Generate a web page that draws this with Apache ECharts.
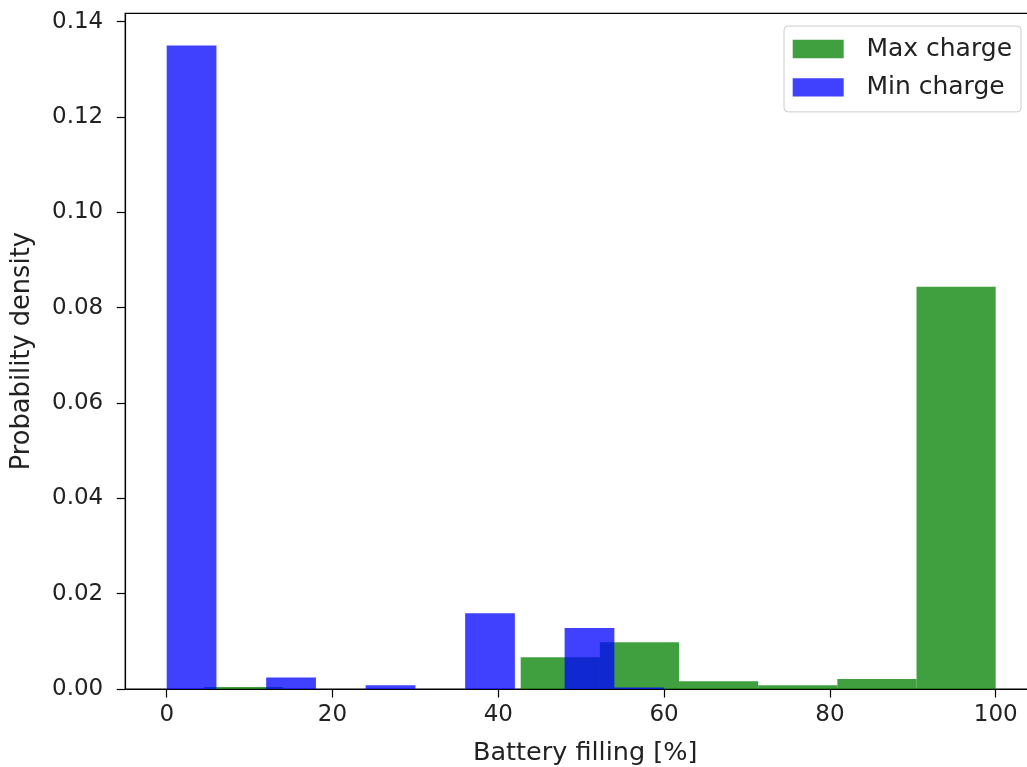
<!DOCTYPE html>
<html>
<head>
<meta charset="utf-8">
<script src="https://cdn.jsdelivr.net/npm/echarts@6/dist/echarts.min.js"></script>
<style>
html,body{margin:0;padding:0;background:#fff;overflow:hidden;}
#c{width:1027px;height:767px;}
</style>
</head>
<body>
<div id="c"></div>
<script>
// Bin edges and densities
const maxEdges = [4.5, 14.05, 23.6, 33.15, 42.7, 52.25, 61.8, 71.35, 80.9, 90.45, 100];
const maxDensity = [0.0004, 0, 0, 0, 0.00665, 0.0098, 0.0016, 0.0008, 0.0021, 0.0844];
const minEdges = [0, 6, 12, 18, 24, 30, 36, 42, 48, 54, 60];
const minDensity = [0.135, 0, 0.0024, 0, 0.0008, 0, 0.0159, 0, 0.0128, 0.0003];
const xTicks = [0, 20, 40, 60, 80, 100];
const yTicks = [0, 0.02, 0.04, 0.06, 0.08, 0.10, 0.12, 0.14];
const seriesNames = ['Max charge', 'Min charge'];

function bins(edges, dens) {
  return dens.map((d, i) => [edges[i], edges[i + 1], d]);
}

function renderBar(params, api) {
  const p0 = api.coord([api.value(0), 0]);
  const p1 = api.coord([api.value(1), api.value(2)]);
  return {
    type: 'rect',
    shape: { x: p0[0], y: p1[1], width: p1[0] - p0[0], height: p0[1] - p1[1] },
    style: api.style()
  };
}

const font = 'DejaVu Sans';
const chart = echarts.init(document.getElementById('c'), null, { renderer: 'canvas' });
chart.setOption({
  animation: false,
  backgroundColor: '#ffffff',
  grid: {
    left: 125.25, top: 13.3, width: 902.8, height: 675.7,
    containLabel: false, outerBoundsMode: 'none',
    show: true, borderColor: '#000', borderWidth: 1.2, backgroundColor: 'transparent'
  },
  legend: {
    orient: 'vertical',
    left: 784, top: 26,
    padding: [10.5, 9, 12, 8.7],
    itemWidth: 51, itemHeight: 18.4, itemGap: 13.4,
    icon: 'rect',
    backgroundColor: 'rgba(255,255,255,0.8)',
    borderColor: '#cccccc', borderWidth: 1, borderRadius: 4,
    textStyle: { fontFamily: font, fontSize: 25, color: '#222', padding: [0, 0, 0, 17.7] },
    data: seriesNames
  },
  xAxis: {
    type: 'value', min: -5, max: -5 + 902.8 / 8.29,
    name: 'Battery filling [%]', nameLocation: 'middle', nameGap: 51,
    nameTextStyle: { fontFamily: font, fontSize: 25.5, color: '#222', padding: [0, 0, 0, 17] },
    axisLine: { show: true, onZero: false, lineStyle: { color: '#000', width: 1.2 } },
    axisTick: { show: true, inside: false, length: 8.5, lineStyle: { color: '#000', width: 1.2 }, customValues: xTicks },
    axisLabel: { fontFamily: font, fontSize: 23, color: '#222', margin: 15, customValues: xTicks },
    splitLine: { show: false }
  },
  yAxis: {
    type: 'value', min: 0, max: 0.14175,
    name: 'Probability density', nameLocation: 'middle', nameGap: 90,
    nameTextStyle: { fontFamily: font, fontSize: 25.7, color: '#222' },
    axisLine: { show: true, onZero: false, lineStyle: { color: '#000', width: 1.2 } },
    axisTick: { show: true, inside: false, length: 8.5, lineStyle: { color: '#000', width: 1.2 }, customValues: yTicks },
    axisLabel: { fontFamily: font, fontSize: 23, color: '#222', margin: 22, customValues: yTicks,
      formatter: v => v.toFixed(2) },
    splitLine: { show: false }
  },
  series: [
    {
      name: seriesNames[0], type: 'custom', renderItem: renderBar,
      itemStyle: { color: 'rgba(0,128,0,0.75)' },
      encode: { x: [0, 1], y: 2 },
      data: bins(maxEdges, maxDensity)
    },
    {
      name: seriesNames[1], type: 'custom', renderItem: renderBar,
      itemStyle: { color: 'rgba(0,0,255,0.75)' },
      encode: { x: [0, 1], y: 2 },
      data: bins(minEdges, minDensity)
    }
  ]
});
</script>
</body>
</html>
